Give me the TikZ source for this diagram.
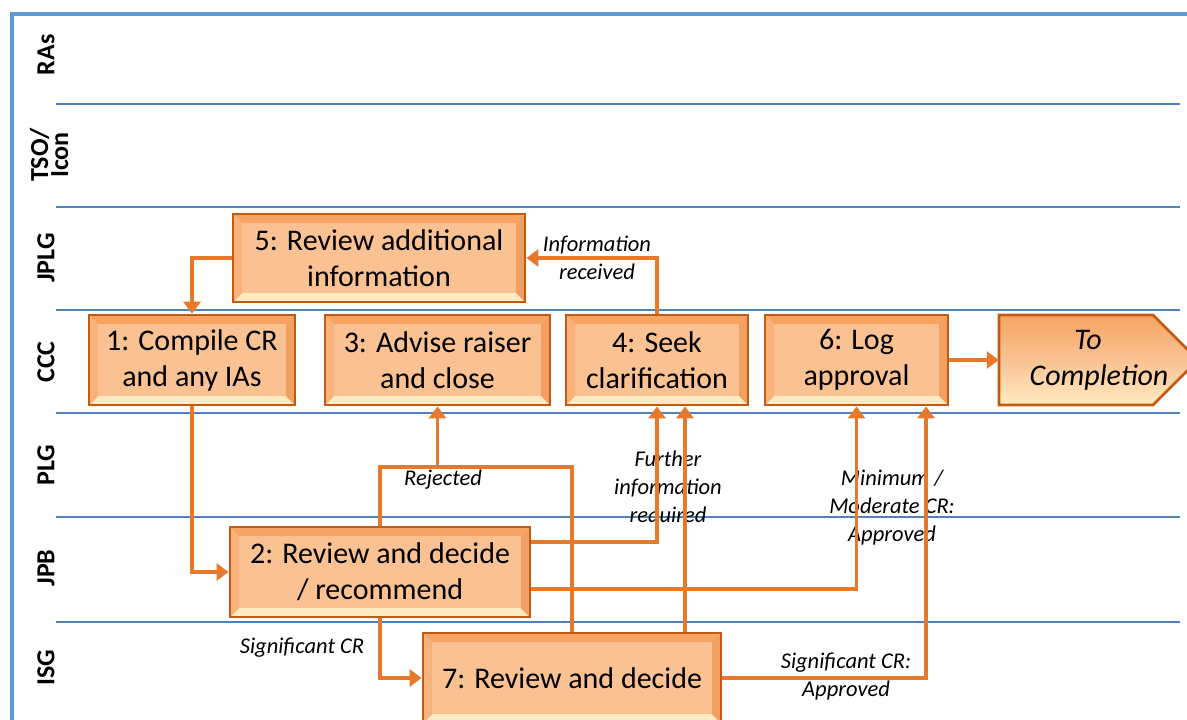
\documentclass[tikz,border=0pt]{standalone}
\usepackage{fontspec}
\setmainfont{Carlito}
\usetikzlibrary{arrows.meta,calc}
\definecolor{connc}{HTML}{E8792A}
\definecolor{boxline}{HTML}{C25A12}
\definecolor{boxfill}{HTML}{FAC292}
\definecolor{bevtop}{HTML}{F5A463}
\definecolor{bevbot}{HTML}{FFEBC3}
\definecolor{bevleft}{HTML}{F9B27A}
\definecolor{bevright}{HTML}{F2A062}
\definecolor{lanec}{HTML}{4F81BD}
\definecolor{framec}{HTML}{5B9BD5}
\newcommand{\boxfont}{\fontsize{30}{36}\selectfont}
\newcommand{\lblfont}{\fontsize{22.5}{28}\selectfont\itshape}
\newcommand{\lanefont}{\fontsize{26}{20}\selectfont\bfseries}
\tikzset{
  box/.style={draw=boxline, line width=2.8pt, inner sep=0pt, align=center,
    font=\boxfont, fill=boxfill,
    path picture={
      \fill[bevtop] (path picture bounding box.north west) -- (path picture bounding box.north east)
        -- ([xshift=-9pt,yshift=-9pt]path picture bounding box.north east)
        -- ([xshift=9pt,yshift=-9pt]path picture bounding box.north west) -- cycle;
      \fill[bevbot] (path picture bounding box.south west) -- (path picture bounding box.south east)
        -- ([xshift=-9pt,yshift=9pt]path picture bounding box.south east)
        -- ([xshift=9pt,yshift=9pt]path picture bounding box.south west) -- cycle;
      \fill[bevleft] (path picture bounding box.south west) -- (path picture bounding box.north west)
        -- ([xshift=9pt,yshift=-9pt]path picture bounding box.north west)
        -- ([xshift=9pt,yshift=9pt]path picture bounding box.south west) -- cycle;
      \fill[bevright] (path picture bounding box.south east) -- (path picture bounding box.north east)
        -- ([xshift=-9pt,yshift=-9pt]path picture bounding box.north east)
        -- ([xshift=-9pt,yshift=9pt]path picture bounding box.south east) -- cycle;
    }},
  conn/.style={draw=connc, line width=3.8pt, -{Triangle[width=17pt,length=12pt]}},
  plainline/.style={draw=connc, line width=3.8pt},
  lbl/.style={font=\lblfont, align=center, inner sep=0pt},
  lanelbl/.style={font=\lanefont, align=center, rotate=90, inner sep=0pt},
  laneline/.style={draw=lanec, line width=1.4pt}
}
\begin{document}
\begin{tikzpicture}[x=1pt,y=-1pt]
\useasboundingbox (0,0) rectangle (1187,720);
\clip (0,0) rectangle (1187,720);
% frame
\draw[framec, line width=4pt] (12,730) -- (12,14) -- (1195,14);
% lanes
\foreach \yy in {104,207,310,413,517,622}{
  \draw[laneline] (56,\yy) -- (1180,\yy);
}
\node[lanelbl] (lRAs) at (46,55) {RAs};
\node[lanelbl] (lTSO) at (49,155) {TSO/\\Icon};
\node[lanelbl] (lJPLG) at (46,258) {JPLG};
\node[lanelbl] (lCCC) at (46,362) {CCC};
\node[lanelbl] (lPLG) at (46,465) {PLG};
\node[lanelbl] (lJPB) at (46,568) {JPB};
\node[lanelbl] (lISG) at (46,668) {ISG};

% labels
\node[lbl] (tInfo) at (597,258) {Information\\received};
\node[lbl] (tRej) at (443,480) {Rejected};
\node[lbl] (tFur) at (668,488) {Further\\information\\required};
\node[lbl] (tMin) at (892,508) {Minimum /\\Moderate CR:\\Approved};
\node[lbl] (tSigA) at (846,677) {Significant CR:\\Approved};
\node[lbl] (tSig) at (302,648) {Significant CR};

% boxes
\node[box, minimum width=292pt, minimum height=88pt] (b5) at (379,258) {5: Review additional\\information};
\node[box, minimum width=206pt, minimum height=90pt] (b1) at (192,360) {1: Compile CR\\and any IAs};
\node[box, minimum width=225pt, minimum height=90pt] (b3) at (437.5,360) {3: Advise raiser\\and close};
\node[box, minimum width=182pt, minimum height=90pt] (b4) at (657,360) {4: Seek\\clarification};
\node[box, minimum width=183pt, minimum height=90pt] (b6) at (856.5,360) {6: Log\\approval};
\node[box, minimum width=300pt, minimum height=90pt] (b2) at (380,572) {2: Review and decide\\/ recommend};
\node[box, minimum width=298pt, minimum height=90pt] (b7) at (572,678) {7: Review and decide};
% to completion pentagon
\shade[top color=bevtop, bottom color=bevbot, middle color=boxfill, draw=boxline, line width=2.8pt]
  (999,315) -- (1153,315) -- (1198,360) -- (1153,405) -- (999,405) -- cycle;
\node[font=\boxfont\itshape, align=center, inner sep=0pt, minimum width=200pt, minimum height=90pt] (bC) at (1099,360) {\hspace*{-22pt}To\\Completion};

% coordinates
\coordinate (j2) at (572,467);
\coordinate (j3) at (437.5,467);
\coordinate (x685) at (685,0);
\coordinate (x926) at (926,0);

% connectors
\draw[conn] (b5.west) -| (b1.north);
\draw[conn] (b1.south) |- (b2.west);
\draw[plainline] (b2.north) |- (j2) -- (j2 |- b7.north);
\draw[conn] (j3) -- (b3.south);
\draw[conn] ([yshift=30pt]b2.east) -| (b4.south);
\draw[conn] (b7.north -| x685) -- (b4.south -| x685);
\draw[conn] ([yshift=-17pt]b2.east) -| (b6.south);
\draw[conn] (b7.east) -| (b6.south -| x926);
\draw[conn] (b2.south) |- (b7.west);
\draw[conn] (b4.north) |- (b5.east);
\draw[conn] (b6.east) -- (bC.west);
\end{tikzpicture}
\end{document}
